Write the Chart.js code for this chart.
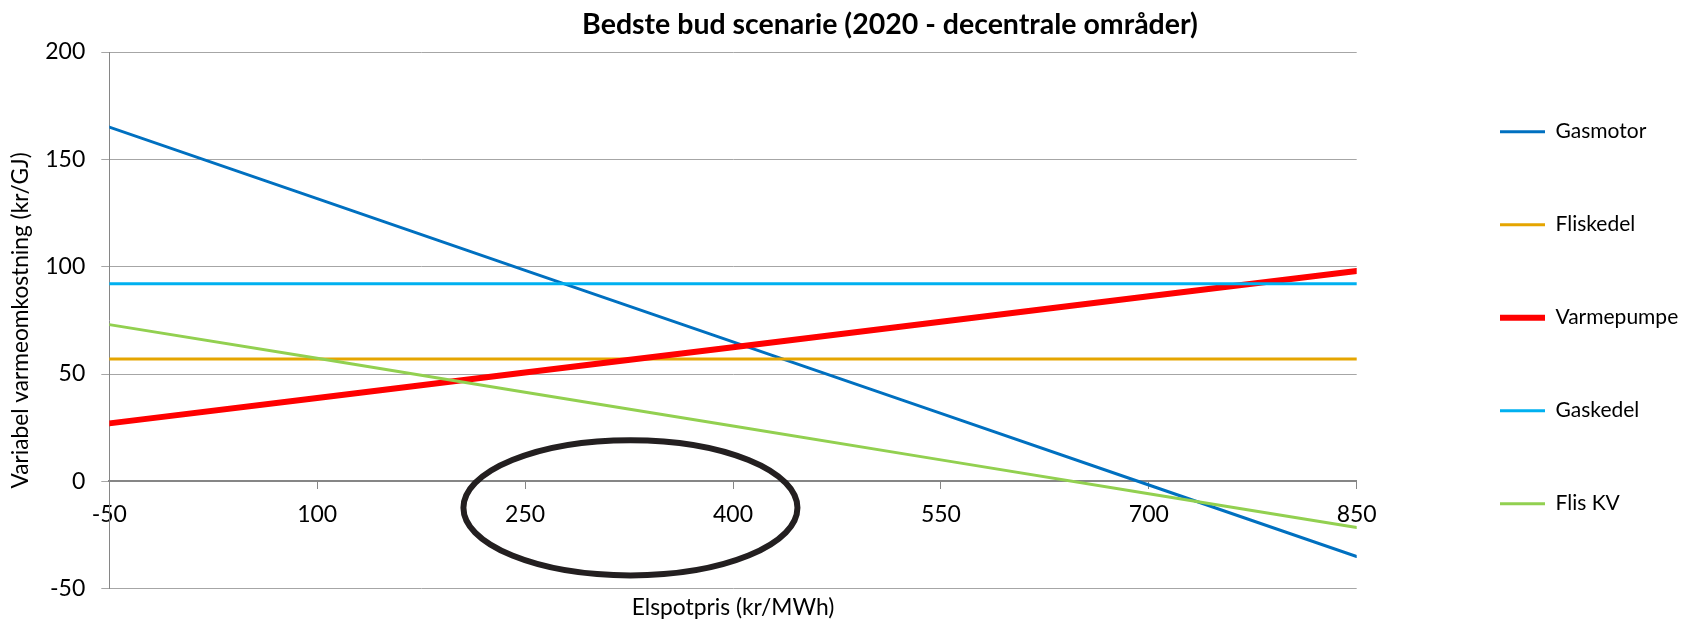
<!DOCTYPE html>
<html>
<head>
<meta charset="utf-8">
<script src="https://cdn.jsdelivr.net/npm/chart.js@4.4.1/dist/chart.umd.min.js"></script>
<style>
html,body{margin:0;padding:0;background:#fff;}
#c{display:block;}
</style>
</head>
<body>
<canvas id="c" width="1684" height="621"></canvas>
<script>
// ---- data ----
const xTicks = [-50, 100, 250, 400, 550, 700, 850];
const yTicks = [-50, 0, 50, 100, 150, 200];
const seriesNames = ['Gasmotor', 'Fliskedel', 'Varmepumpe', 'Gaskedel', 'Flis KV'];
const gasmotor   = [165, 131.7, 98.3, 65, 31.7, -1.7, -35];
const fliskedel  = [57, 57, 57, 57, 57, 57, 57];
const varmepumpe = [27, 38.8, 50.7, 62.5, 74.3, 86.2, 98];
const gaskedel   = [92, 92, 92, 92, 92, 92, 92];
const flisKV     = [73, 57.3, 41.5, 25.8, 10, -5.8, -21.5];
// highlighted region (drawn ellipse), in data units
const highlight = { x: 326, y: -12.3, rx: 120.5, ry: 31.5 };

const titleText = 'Bedste bud scenarie (2020 - decentrale områder)';
const xTitle = 'Elspotpris (kr/MWh)';
const yTitle = 'Variabel varmeomkostning (kr/GJ)';

// ---- styles ----
const seriesColors = ['#0070C0', '#E5A500', '#FF0000', '#00B0F0', '#92D050'];
const seriesWidths = [3, 3, 6, 3, 3];
const seriesValues = [gasmotor, fliskedel, varmepumpe, gaskedel, flisKV];

Chart.defaults.font.family = 'Lato, "Open Sans", sans-serif';
Chart.defaults.color = '#000';

const ellipsePlugin = {
  id: 'highlightEllipse',
  afterDatasetsDraw(chart) {
    const xs = chart.scales.x, ys = chart.scales.y, ctx = chart.ctx;
    const cx = xs.getPixelForValue(highlight.x);
    const cy = ys.getPixelForValue(highlight.y);
    const rx = Math.abs(xs.getPixelForValue(highlight.x + highlight.rx) - cx);
    const ry = Math.abs(ys.getPixelForValue(highlight.y + highlight.ry) - cy);
    ctx.save();
    ctx.beginPath();
    ctx.ellipse(cx, cy, rx, ry, 0, 0, Math.PI * 2);
    ctx.lineWidth = 6;
    ctx.strokeStyle = '#231F20';
    ctx.stroke();
    ctx.restore();
  }
};

const titleShift = {
  id: 'titleShift',
  afterLayout(chart) {
    if (chart.titleBlock) {
      chart.titleBlock.left = 96;
      chart.titleBlock.right = chart.width;
    }
  }
};

new Chart(document.getElementById('c'), {
  type: 'line',
  data: {
    datasets: seriesNames.map((name, i) => ({
      label: name,
      data: xTicks.map((x, j) => ({ x: x, y: seriesValues[i][j] })),
      borderColor: seriesColors[i],
      backgroundColor: seriesColors[i],
      borderWidth: seriesWidths[i],
      borderCapStyle: 'round',
      pointRadius: 0,
      pointHoverRadius: 0,
      tension: 0,
      fill: false,
      order: seriesNames.length - i,
      xAxisID: 'x',
      yAxisID: 'y'
    }))
  },
  options: {
    responsive: false,
    animation: false,
    devicePixelRatio: 1,
    layout: { padding: 0 },
    plugins: {
      title: {
        display: true,
        text: titleText,
        font: { size: 28.5, weight: 'bold' },
        color: '#000',
        padding: { top: 7.4, bottom: 10.4 }
      },
      legend: {
        position: 'right',
        align: 'center',
        maxWidth: 256,
        title: { display: true, text: ' ', font: { size: 12 }, padding: 0 },
        labels: {
          usePointStyle: true,
          pointStyle: 'line',
          pointStyleWidth: 45,
          boxHeight: 21,
          font: { size: 21 },
          padding: 72,
          color: '#000',
          sort: (a, b) => a.datasetIndex - b.datasetIndex
        }
      },
      tooltip: { enabled: false }
    },
    scales: {
      x: {
        axis: 'x',
        type: 'linear',
        min: -50,
        max: 850,
        position: { y: 0 },
        afterBuildTicks: s => { s.ticks = xTicks.map(v => ({ value: v })); },
        ticks: { autoSkip: false, maxRotation: 0, padding: 12, font: { size: 23 }, color: '#000' },
        grid: { display: true, drawOnChartArea: false, drawTicks: true, tickLength: 7, color: '#868686', lineWidth: 1 },
        border: { display: true, color: '#868686', width: 2 },
        title: { display: false }
      },
      x2: {
        axis: 'x',
        type: 'linear',
        position: 'bottom',
        min: -50,
        max: 850,
        ticks: { display: false },
        grid: { display: false },
        border: { display: false },
        title: { display: true, text: xTitle, font: { size: 22.8 }, color: '#000', padding: { top: 0, bottom: 0 } },
        afterFit: s => { s.height = 32.3; }
      },
      y: {
        axis: 'y',
        type: 'linear',
        position: 'left',
        min: -50,
        max: 200,
        afterBuildTicks: s => { s.ticks = yTicks.map(v => ({ value: v })); },
        ticks: { padding: 16, font: { size: 23 }, color: '#000' },
        grid: { color: '#a6a6a6', lineWidth: 1, tickLength: 8, drawTicks: true },
        border: { display: true, color: '#868686', width: 1 },
        title: { display: true, text: yTitle, font: { size: 22.7 }, color: '#000', padding: { top: 7, bottom: 0 } },
        afterFit: s => { s.width = 109.3; }
      },
      yR: {
        axis: 'y',
        type: 'linear',
        position: 'right',
        ticks: { display: false },
        grid: { display: false },
        border: { display: false },
        title: { display: false },
        afterFit: s => { s.width = 71.3; }
      }
    }
  },
  plugins: [ellipsePlugin, titleShift]
});
</script>
</body>
</html>
